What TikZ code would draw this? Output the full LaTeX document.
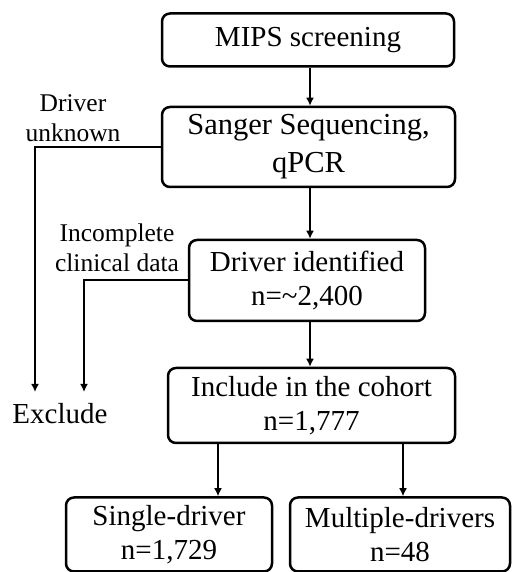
\documentclass[tikz,border=0pt]{standalone}
\usepackage{fontspec}
\setmainfont{Liberation Serif}
\usetikzlibrary{arrows.meta}
\tikzset{
    stepbox/.style={draw=black, line width=2.5pt, rounded corners=8pt,
        align=center, inner sep=2pt, font=\fontsize{29}{34}\selectfont},
    note/.style={align=center, inner sep=0pt, font=\fontsize{25.5}{30}\selectfont},
    flow/.style={line width=2pt, -{Latex[length=8pt,width=8pt]}}
}

\begin{document}
\begin{tikzpicture}[x=1pt,y=1pt]
\useasboundingbox (0,0) rectangle (511,572);

% main column
\node[stepbox, minimum width=292pt, minimum height=53pt](mips) at (308,532)
    {MIPS screening};
\node[stepbox, minimum width=293pt, minimum height=80pt,
    font=\fontsize{30.5}{38}\selectfont](sanger) at (308.5,425)
    {Sanger Sequencing,\\qPCR};
\node[stepbox, minimum width=236pt, minimum height=81pt](ident) at (307,291.5)
    {Driver identified\\n=\textasciitilde2,400};
\node[stepbox, minimum width=287pt, minimum height=75pt](cohort) at (311.5,166.5)
    {Include in the cohort\\n=1,777};

% split by number of drivers
\node[stepbox, minimum width=206pt, minimum height=74pt](single) at (169,37.5)
    {Single-driver\\n=1,729};
\node[stepbox, minimum width=220pt, minimum height=74pt](multi) at (400,37.5)
    {Multiple-drivers\\n=48};

% arrows down the spine at x=310
\draw[flow](mips.south -| 310,0) -- (sanger.north -| 310,0);
\draw[flow](sanger.south -| 310,0) -- (ident.north -| 310,0);
\draw[flow](ident.south -| 310,0) -- (cohort.north -| 310,0);
\draw[flow](cohort.south -| 218,0) -- (single.north -| 218,0);
\draw[flow](cohort.south -| 403,0) -- (multi.north -| 403,0);

% exclusions
\node[note](unknown) at (73,454) {Driver\\unknown};
\node[note](incomplete) at (117,324) {Incomplete\\clinical data};
\node[font=\fontsize{29}{34}\selectfont, inner sep=0pt](exclude) at (60,158) {Exclude};
\coordinate(exA) at (35,180);
\coordinate(exB) at (84,180);
\draw[flow](sanger.west) -| (exA);
\draw[flow](ident.west) -| (exB);

\end{tikzpicture}
\end{document}
